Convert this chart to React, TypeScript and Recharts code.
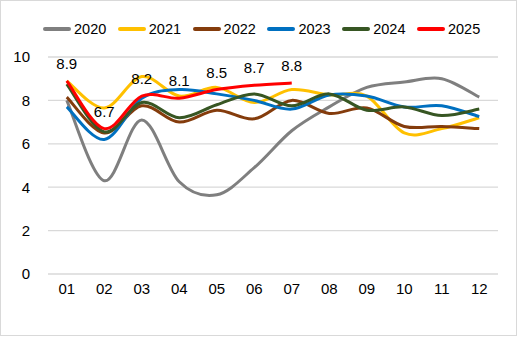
import React from 'react'
import { LineChart, Line, XAxis, YAxis, CartesianGrid, Legend, LabelList } from 'recharts'

const months = ['01', '02', '03', '04', '05', '06', '07', '08', '09', '10', '11', '12']

const y2020 = [8.0, 4.3, 7.1, 4.25, 3.65, 4.9, 6.6, 7.7, 8.6, 8.85, 9.0, 8.15]
const y2021 = [8.9, 7.65, 9.1, 8.2, 8.6, 7.9, 8.5, 8.25, 8.2, 6.5, 6.7, 7.2]
const y2022 = [8.15, 6.5, 7.75, 7.0, 7.55, 7.15, 8.0, 7.4, 7.65, 6.8, 6.8, 6.7]
const y2023 = [7.7, 6.2, 8.1, 8.5, 8.3, 8.0, 7.6, 8.25, 8.2, 7.7, 7.75, 7.25]
const y2024 = [8.75, 6.55, 7.9, 7.2, 7.8, 8.3, 7.75, 8.3, 7.55, 7.7, 7.3, 7.6]
const y2025 = [8.9, 6.7, 8.2, 8.1, 8.5, 8.7, 8.8]

const yTicks = [0, 2, 4, 6, 8, 10]

const series = [
  { key: '2020', values: y2020, color: '#7f7f7f' },
  { key: '2021', values: y2021, color: '#ffc000' },
  { key: '2022', values: y2022, color: '#843c0c' },
  { key: '2023', values: y2023, color: '#0070c0' },
  { key: '2024', values: y2024, color: '#375623' },
  { key: '2025', values: y2025, color: '#ff0000' },
]

const data = months.map((m, i) => {
  const row: Record<string, string | number | null> = { month: m }
  series.forEach(s => {
    row[s.key] = i < s.values.length ? s.values[i] : null
  })
  return row
})

// excel-style smoothing (catmull-rom, bezier control points at 1/6)
function smoothCurve(context: any) {
  let pts: number[][] = []
  return {
    areaStart() {},
    areaEnd() {},
    lineStart() {
      pts = []
    },
    point(x: number, y: number) {
      pts.push([+x, +y])
    },
    lineEnd() {
      const n = pts.length
      if (!n) return
      context.moveTo(pts[0][0], pts[0][1])
      for (let i = 0; i < n - 1; i++) {
        const p0 = pts[Math.max(i - 1, 0)]
        const p1 = pts[i]
        const p2 = pts[i + 1]
        const p3 = pts[Math.min(i + 2, n - 1)]
        context.bezierCurveTo(
          p1[0] + (p2[0] - p0[0]) / 6,
          p1[1] + (p2[1] - p0[1]) / 6,
          p2[0] - (p3[0] - p1[0]) / 6,
          p2[1] - (p3[1] - p1[1]) / 6,
          p2[0],
          p2[1]
        )
      }
    },
  }
}

const font = '"Liberation Sans", Arial, sans-serif'
const tickStyle = { fontFamily: font, fontSize: 15, fill: '#000' }

function LegendRow() {
  return (
    <div style={{ display: 'flex', fontFamily: font, fontSize: 14.5, color: '#000', paddingLeft: 43 }}>
      {series.map(s => (
        <div key={s.key} style={{ display: 'flex', alignItems: 'center', width: 74.8 }}>
          <span style={{ display: 'inline-block', width: 28, height: 4, borderRadius: 2, background: s.color, marginRight: 3 }} />
          <span>{s.key}</span>
        </div>
      ))}
    </div>
  )
}

export default function App() {
  return (
    <div style={{ position: 'absolute', left: 0, top: 0, width: 518, height: 337, background: '#fff' }}>
      <div
        style={{
          position: 'absolute',
          left: 0,
          top: 0,
          width: 517,
          height: 336,
          border: '1px solid #d9d9d9',
          boxSizing: 'border-box',
        }}
      />
      <div style={{ position: 'absolute', left: 0, top: 0 }}>
        <LineChart width={518} height={337} data={data} margin={{ top: 57, right: 20, bottom: 33, left: 0 }}>
          <CartesianGrid vertical={false} stroke="#d9d9d9" strokeWidth={1.3} />
          <XAxis
            dataKey="month"
            axisLine={false}
            tickLine={false}
            tickSize={0}
            tickMargin={9}
            height={30}
            tick={tickStyle}
            interval={0}
            padding={{ left: 18.75, right: 18.75 }}
          />
          <YAxis
            domain={[0, 10]}
            ticks={yTicks}
            axisLine={false}
            tickLine={false}
            tickSize={0}
            tickMargin={18}
            width={48}
            tick={tickStyle}
          />
          <Legend verticalAlign="middle" wrapperStyle={{ top: 21, left: 0, width: 518 }} content={() => <LegendRow />} />
          {series.map(s => (
            <Line
              key={s.key}
              dataKey={s.key}
              type={smoothCurve as any}
              stroke={s.color}
              strokeWidth={3}
              dot={false}
              activeDot={false}
              isAnimationActive={false}
            >
              {s.key === '2025' && (
                <LabelList
                  dataKey={s.key}
                  position="top"
                  offset={12}
                  formatter={(v: any) => (v == null ? '' : Number(v).toFixed(1))}
                  style={{ fontFamily: font, fontSize: 15, fill: '#000' }}
                />
              )}
            </Line>
          ))}
        </LineChart>
      </div>
    </div>
  )
}
